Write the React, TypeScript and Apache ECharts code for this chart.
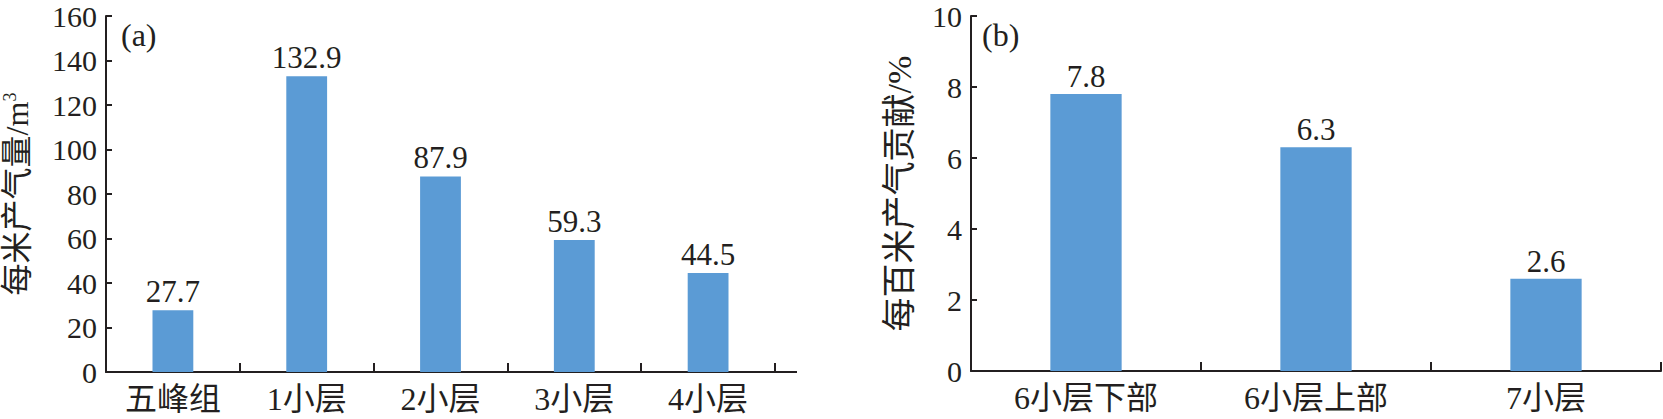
import React, { useEffect, useRef } from "react";
import * as echarts from "echarts";

const catsA = ["五峰组", "1小层", "2小层", "3小层", "4小层"];
const valsA = [27.7, 132.9, 87.9, 59.3, 44.5];
const catsB = ["6小层下部", "6小层上部", "7小层"];
const valsB = [7.8, 6.3, 2.6];
const titleA = "每米产气量/m{sup|3}";
const titleB = "每百米产气贡献/%";

const FONT = '"Liberation Serif", "Times New Roman", "Noto Sans CJK SC", serif';
const INK = "#231f20";
const BAR = "#5b9bd5";

export default function App() {
  const ref = useRef<HTMLDivElement>(null);
  useEffect(() => {
    if (!ref.current) return;
    const chart = echarts.init(ref.current, undefined, { renderer: "svg" });
    const axisLine = { show: true, lineStyle: { color: INK, width: 2 } };
    const xAxisCommon = {
      type: "category" as const,
      axisLine,
      axisTick: { show: true, inside: true, length: 9, lineStyle: { color: INK, width: 2 } },
      axisLabel: { color: INK, fontSize: 32, fontFamily: FONT, margin: 11 },
    };
    const yAxisCommon = {
      type: "value" as const,
      min: 0,
      axisLine,
      splitLine: { show: false },
      axisTick: { show: true, inside: true, length: 6, lineStyle: { color: INK, width: 2 } },
      axisLabel: { color: INK, fontSize: 30, fontFamily: FONT, margin: 9 },
      nameLocation: "middle" as const,
      nameRotate: 90,
    };
    const labelCommon = {
      show: true,
      position: "top" as const,
      color: INK,
      fontSize: 31,
      fontFamily: FONT,
    };
    chart.setOption({
      animation: false,
      backgroundColor: "#ffffff",
      grid: [
        { left: 106, top: 16, width: 669, height: 356 },
        { left: 971, top: 16, width: 690, height: 355 },
      ],
      xAxis: [
        { ...xAxisCommon, gridIndex: 0, data: catsA },
        { ...xAxisCommon, gridIndex: 1, data: catsB },
      ],
      yAxis: [
        {
          ...yAxisCommon,
          gridIndex: 0,
          max: 160,
          interval: 20,
          name: titleA,
          nameGap: 73,
          nameTextStyle: {
            color: INK,
            fontSize: 32,
            fontFamily: FONT,
            rich: { sup: { fontSize: 18, verticalAlign: "top", color: INK, fontFamily: FONT } },
          },
        },
        {
          ...yAxisCommon,
          gridIndex: 1,
          max: 10,
          interval: 2,
          name: titleB,
          nameGap: 55,
          nameTextStyle: { color: INK, fontSize: 34, fontFamily: FONT },
        },
      ],
      series: [
        {
          type: "bar",
          xAxisIndex: 0,
          yAxisIndex: 0,
          data: valsA,
          barWidth: "30.5%",
          itemStyle: { color: BAR },
          label: { ...labelCommon, distance: 3 },
        },
        {
          type: "bar",
          xAxisIndex: 1,
          yAxisIndex: 1,
          data: valsB,
          barWidth: "31%",
          itemStyle: { color: BAR },
          label: { ...labelCommon, distance: 2 },
        },
      ],
      graphic: [
        {
          type: "line",
          shape: { x1: 775, y1: 372, x2: 797, y2: 372 },
          style: { stroke: INK, lineWidth: 2 },
        },
        {
          type: "text",
          left: 121,
          top: 19,
          style: { text: "(a)", fill: INK, fontSize: 32, fontFamily: FONT },
        },
        {
          type: "text",
          left: 982,
          top: 19,
          style: { text: "(b)", fill: INK, fontSize: 32, fontFamily: FONT },
        },
      ],
    });
    return () => chart.dispose();
  }, []);
  return (
    <div
      ref={ref}
      style={{ position: "fixed", left: 0, top: 0, width: 1663, height: 419, background: "#fff" }}
    />
  );
}
